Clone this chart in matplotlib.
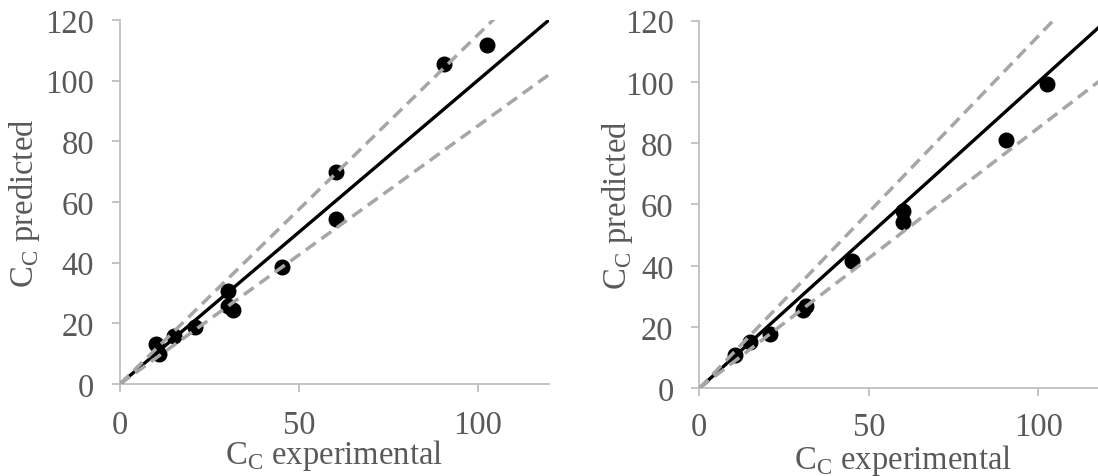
import matplotlib
import matplotlib.pyplot as plt
import numpy as np

matplotlib.use("Agg")

# experimental vs predicted C_C, left and right model
left_exp = [10.2, 10.8, 15.1, 21.0, 30.3, 30.3, 31.5, 45.2, 60.5, 60.5, 90.6, 102.7]
left_pred = [13.2, 9.8, 15.9, 18.8, 30.8, 25.8, 24.3, 38.7, 70.0, 54.4, 105.5, 111.6]

right_exp = [10.5, 15.0, 20.9, 30.5, 31.4, 45.1, 60.2, 60.2, 90.4, 102.5]
right_pred = [10.8, 15.0, 17.7, 25.4, 26.8, 41.5, 58.0, 54.4, 81.1, 99.2]

# reference lines: y = x and +/- 15 % bands
ref_slopes = [1.0, 1.15, 0.85]

x_ticks = [0, 50, 100]
y_ticks = [0, 20, 40, 60, 80, 100, 120]

_GRAY_TEXT = "#595959"
_AXIS_GRAY = "#BFBFBF"
_DASH_GRAY = "#A6A6A6"
_FONT = "Liberation Serif"
_FS = 23.5

plt.rcParams["font.family"] = [_FONT, "DejaVu Serif"]
plt.rcParams["mathtext.fontset"] = "custom"
plt.rcParams["mathtext.rm"] = _FONT


def _panel(ax, xs, ys, ylabel_x, xlabel_y, xpad):
    ax.plot(xs, ys, "o", color="black", markersize=10.5, zorder=2)

    line_x = np.array([0.0, 120.0])
    for k in ref_slopes:
        if k == 1.0:
            ax.plot(line_x, k * line_x, color="black", lw=2.4, zorder=3)
        else:
            ax.plot(line_x, k * line_x, color=_DASH_GRAY, lw=2.5,
                    dashes=(3.5, 2.0), zorder=4)

    ax.set_xlim(0, 120)
    ax.set_ylim(0, 120)
    ax.set_xticks(x_ticks)
    ax.set_yticks(y_ticks)

    for side in ("top", "right"):
        ax.spines[side].set_visible(False)
    for side in ("left", "bottom"):
        ax.spines[side].set_color(_AXIS_GRAY)
        ax.spines[side].set_linewidth(1.3)

    ax.tick_params(axis="both", direction="out", length=6, width=1.3,
                   color=_AXIS_GRAY, labelcolor=_GRAY_TEXT,
                   labelsize=_FS, pad=12.5)
    ax.tick_params(axis="x", pad=xpad)

    ax.set_xlabel(r"C$_\mathregular{C}$ experimental", fontsize=_FS,
                  color=_GRAY_TEXT)
    ax.set_ylabel(r"C$_\mathregular{C}$ predicted", fontsize=_FS,
                  color=_GRAY_TEXT)
    ax.yaxis.set_label_coords(ylabel_x, 0.5)
    ax.xaxis.set_label_coords(0.5, xlabel_y)


fig = plt.figure(figsize=(10.98, 4.77), dpi=100)
ax1 = fig.add_axes([0.1093, 0.1929, 0.3907, 0.7631])
ax2 = fig.add_axes([0.6369, 0.1839, 0.3705, 0.7706])

_panel(ax1, left_exp, left_pred, -0.181, -0.147, 12.5)
_panel(ax2, right_exp, right_pred, -0.158, -0.145, 10.5)

fig.savefig("out.png", dpi=100)
plt.close(fig)
